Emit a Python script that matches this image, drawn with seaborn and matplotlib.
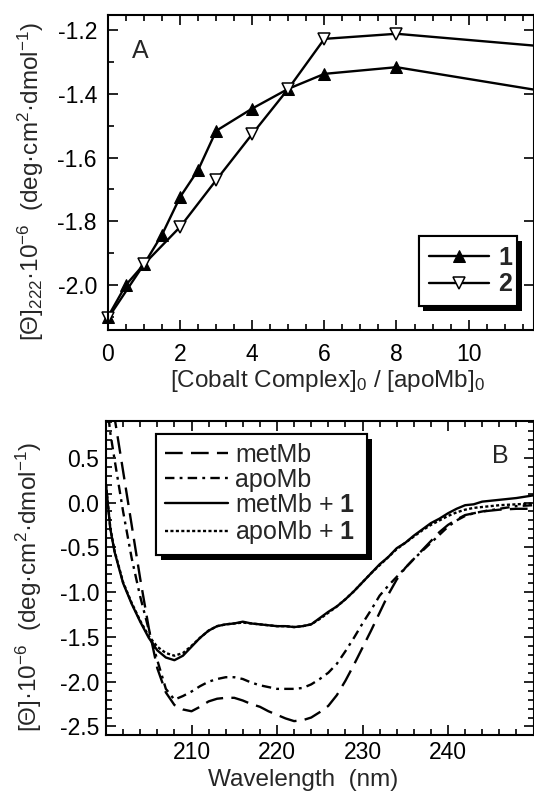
import matplotlib
matplotlib.use("Agg")
import matplotlib.pyplot as plt
import matplotlib.patheffects as pe
from matplotlib.ticker import MultipleLocator, FixedLocator
import seaborn as sns
import pandas as pd

# ---------------- data: panel A ----------------
ratio_1 = [0, 0.5, 1, 1.5, 2, 2.5, 3, 4, 5, 6, 8, 12]
theta_1 = [-2.10, -2.00, -1.935, -1.842, -1.724, -1.639, -1.516, -1.446,
           -1.384, -1.337, -1.316, -1.39]
ratio_2 = [0, 1, 2, 3, 4, 5, 6, 8, 12]
theta_2 = [-2.105, -1.935, -1.818, -1.671, -1.526, -1.384, -1.227, -1.211, -1.25]
labels_A = ["1", "2"]

# ---------------- data: panel B ----------------
wavelength = [200, 200.5, 201, 202, 203, 204, 205, 206, 207, 208, 209, 210,
              211, 212, 213, 214, 215, 216, 217, 218, 219, 220, 221, 222,
              223, 224, 225, 226, 227, 228, 229, 230, 231, 232, 233, 234,
              235, 236, 237, 238, 239, 240, 241, 242, 243, 244, 246, 248, 250]
metMb = [1.60, 1.25, 0.95, 0.35, -0.25, -0.85, -1.40, -1.85, -2.12, -2.26,
         -2.31, -2.33, -2.28, -2.22, -2.19, -2.18, -2.18, -2.21, -2.25, -2.28,
         -2.33, -2.37, -2.41, -2.44, -2.43, -2.40, -2.34, -2.27, -2.15, -1.99,
         -1.81, -1.62, -1.43, -1.23, -1.03, -0.86, -0.73, -0.63, -0.53, -0.43,
         -0.33, -0.25, -0.19, -0.14, -0.12, -0.10, -0.08, -0.07, -0.07]
apoMb = [1.20, 0.78, 0.48, -0.10, -0.62, -1.05, -1.42, -1.76, -2.08, -2.20,
         -2.16, -2.11, -2.05, -2.00, -1.97, -1.95, -1.95, -1.97, -2.01, -2.04,
         -2.06, -2.08, -2.08, -2.08, -2.07, -2.03, -1.97, -1.90, -1.80, -1.66,
         -1.51, -1.35, -1.20, -1.04, -0.93, -0.83, -0.73, -0.63, -0.54, -0.45,
         -0.36, -0.27, -0.20, -0.15, -0.12, -0.10, -0.07, -0.04, -0.03]
metMb_1 = [0.20, -0.29, -0.55, -0.90, -1.13, -1.33, -1.51, -1.65, -1.73, -1.76,
           -1.71, -1.61, -1.51, -1.43, -1.38, -1.36, -1.35, -1.33, -1.35, -1.36,
           -1.37, -1.38, -1.38, -1.39, -1.38, -1.36, -1.29, -1.22, -1.16, -1.08,
           -0.99, -0.89, -0.79, -0.69, -0.61, -0.51, -0.45, -0.37, -0.30, -0.23,
           -0.18, -0.12, -0.07, -0.03, -0.02, 0.01, 0.03, 0.05, 0.08]
apoMb_1 = [0.20, -0.28, -0.54, -0.89, -1.12, -1.32, -1.49, -1.61, -1.68, -1.71,
           -1.68, -1.60, -1.51, -1.43, -1.38, -1.36, -1.35, -1.34, -1.35, -1.36,
           -1.37, -1.38, -1.38, -1.39, -1.38, -1.36, -1.30, -1.23, -1.16, -1.08,
           -0.99, -0.89, -0.79, -0.70, -0.61, -0.52, -0.45, -0.38, -0.31, -0.25,
           -0.20, -0.15, -0.11, -0.08, -0.06, -0.05, -0.03, -0.02, -0.01]
labels_B = ["metMb", "apoMb", r"metMb + $\mathbf{1}$", r"apoMb + $\mathbf{1}$"]

# ---------------- style ----------------
sns.set_style("ticks")
plt.rcParams["font.family"] = ["Liberation Sans", "DejaVu Sans"]
plt.rcParams["mathtext.fontset"] = "custom"
plt.rcParams["mathtext.rm"] = "Liberation Sans"
plt.rcParams["mathtext.it"] = "Liberation Sans:italic"
plt.rcParams["mathtext.bf"] = "Liberation Sans:bold"
plt.rcParams["axes.linewidth"] = 1.5

TICK = 16.5
LAB = 17.5
LEG = 18

fig = plt.figure(figsize=(5.34, 7.92), dpi=100)
axA = fig.add_axes([108 / 534, 1 - 330 / 792, 425.5 / 534, 315 / 792])
axB = fig.add_axes([106 / 534, 1 - 735 / 792, 427.5 / 534, 314 / 792])

for ax in (axA, axB):
    ax.set_facecolor("white")
    for s in ax.spines.values():
        s.set_color("black")
        s.set_linewidth(1.5)

# ---------------- panel A ----------------
sns.lineplot(x=ratio_1, y=theta_1, ax=axA, color="black", lw=1.7,
             marker="^", markersize=9, markerfacecolor="black",
             markeredgecolor="black", clip_on=False)
sns.lineplot(x=ratio_2, y=theta_2, ax=axA, color="black", lw=1.7,
             marker="v", markersize=9, markerfacecolor="white",
             markeredgecolor="black", markeredgewidth=1.1, clip_on=False)
axA.set_xlim(0, 11.8)
axA.set_ylim(-2.142, -1.152)
axA.xaxis.set_major_locator(FixedLocator([0, 2, 4, 6, 8, 10]))
axA.xaxis.set_minor_locator(MultipleLocator(0.5))
axA.yaxis.set_major_locator(FixedLocator([-2.0, -1.8, -1.6, -1.4, -1.2]))
axA.yaxis.set_minor_locator(MultipleLocator(0.1))
axA.set_yticklabels(["-2.0", "-1.8", "-1.6", "-1.4", "-1.2"])
axA.tick_params(which="both", direction="in", top=True, right=True,
                width=1.2, labelsize=TICK, colors="black")
axA.tick_params(which="major", length=7)
axA.tick_params(which="minor", length=4, right=False)
axA.tick_params(axis="x", pad=9)
axA.tick_params(axis="y", pad=8)
axA.set_xlabel(r"[Cobalt Complex]$_0$ / [apoMb]$_0$", fontsize=LAB)
axA.set_ylabel(r"[Θ]$_{222}$·10$^{-6}$  (deg·cm$^{2}$·dmol$^{-1}$)", fontsize=LAB)
axA.xaxis.set_label_coords(0.515, -0.12)
axA.yaxis.set_label_coords(-0.145, 0.47)
axA.text(0.077, 0.885, "A", transform=axA.transAxes, fontsize=LEG,
         ha="center", va="center")

legA = axA.legend(handles=axA.lines[:2], labels=labels_A,
                  loc="lower left", bbox_to_anchor=(0.730, 0.075, 0.232, 0.227),
                  mode="expand", borderaxespad=0, fancybox=False,
                  edgecolor="black", framealpha=1,
                  prop={"weight": "bold", "size": LEG},
                  handlelength=2.4, handletextpad=0.4, labelspacing=0.1,
                  borderpad=0.4, numpoints=1)
legA.get_frame().set_linewidth(1.5)
legA.get_frame().set_path_effects([
    pe.withSimplePatchShadow(offset=(3.5, -3.5), shadow_rgbFace="black", alpha=1.0),
    pe.Normal()])

# ---------------- panel B ----------------
styles = [(0, (7.5, 3.5)), (0, (4, 2.2, 1.2, 2.2)), "-", (0, (1.3, 1.0))]
series_B = [metMb, apoMb, metMb_1, apoMb_1]
for vals, ls in zip(series_B, styles):
    sns.lineplot(x=wavelength, y=vals, ax=axB, color="black", lw=1.7,
                 linestyle=ls)
axB.set_xlim(200, 250)
axB.set_ylim(-2.595, 0.91)
axB.xaxis.set_major_locator(FixedLocator([210, 220, 230, 240]))
axB.xaxis.set_minor_locator(MultipleLocator(2))
axB.yaxis.set_major_locator(FixedLocator([-2.5, -2.0, -1.5, -1.0, -0.5, 0.0, 0.5]))
axB.yaxis.set_minor_locator(MultipleLocator(0.1))
axB.set_yticklabels(["-2.5", "-2.0", "-1.5", "-1.0", "-0.5", "0.0", "0.5"])
axB.tick_params(which="both", direction="in", top=True, right=True,
                width=1.2, labelsize=TICK, colors="black")
axB.tick_params(which="major", length=7)
axB.tick_params(which="minor", length=4)
axB.tick_params(axis="x", pad=4)
axB.tick_params(axis="y", pad=5)
axB.set_xlabel("Wavelength  (nm)", fontsize=LAB)
axB.set_ylabel(r"[Θ]·10$^{-6}$  (deg·cm$^{2}$·dmol$^{-1}$)", fontsize=LAB)
axB.xaxis.set_label_coords(0.46, -0.107)
axB.yaxis.set_label_coords(-0.145, 0.47)
axB.text(0.922, 0.889, "B", transform=axB.transAxes, fontsize=LEG,
         ha="center", va="center")

legB = axB.legend(handles=axB.lines[:4], labels=labels_B,
                  loc="upper left", bbox_to_anchor=(0.118, 0.959 - 0.404, 0.493, 0.404),
                  mode="expand", borderaxespad=0, fancybox=False,
                  edgecolor="black", framealpha=1, fontsize=LEG,
                  handlelength=2.5, handletextpad=0.3, labelspacing=0.05,
                  borderpad=0.35)
legB.get_frame().set_linewidth(1.5)
legB.get_frame().set_path_effects([
    pe.withSimplePatchShadow(offset=(3.5, -3.5), shadow_rgbFace="black", alpha=1.0),
    pe.Normal()])

fig.savefig("out.png", dpi=100, facecolor="white")
